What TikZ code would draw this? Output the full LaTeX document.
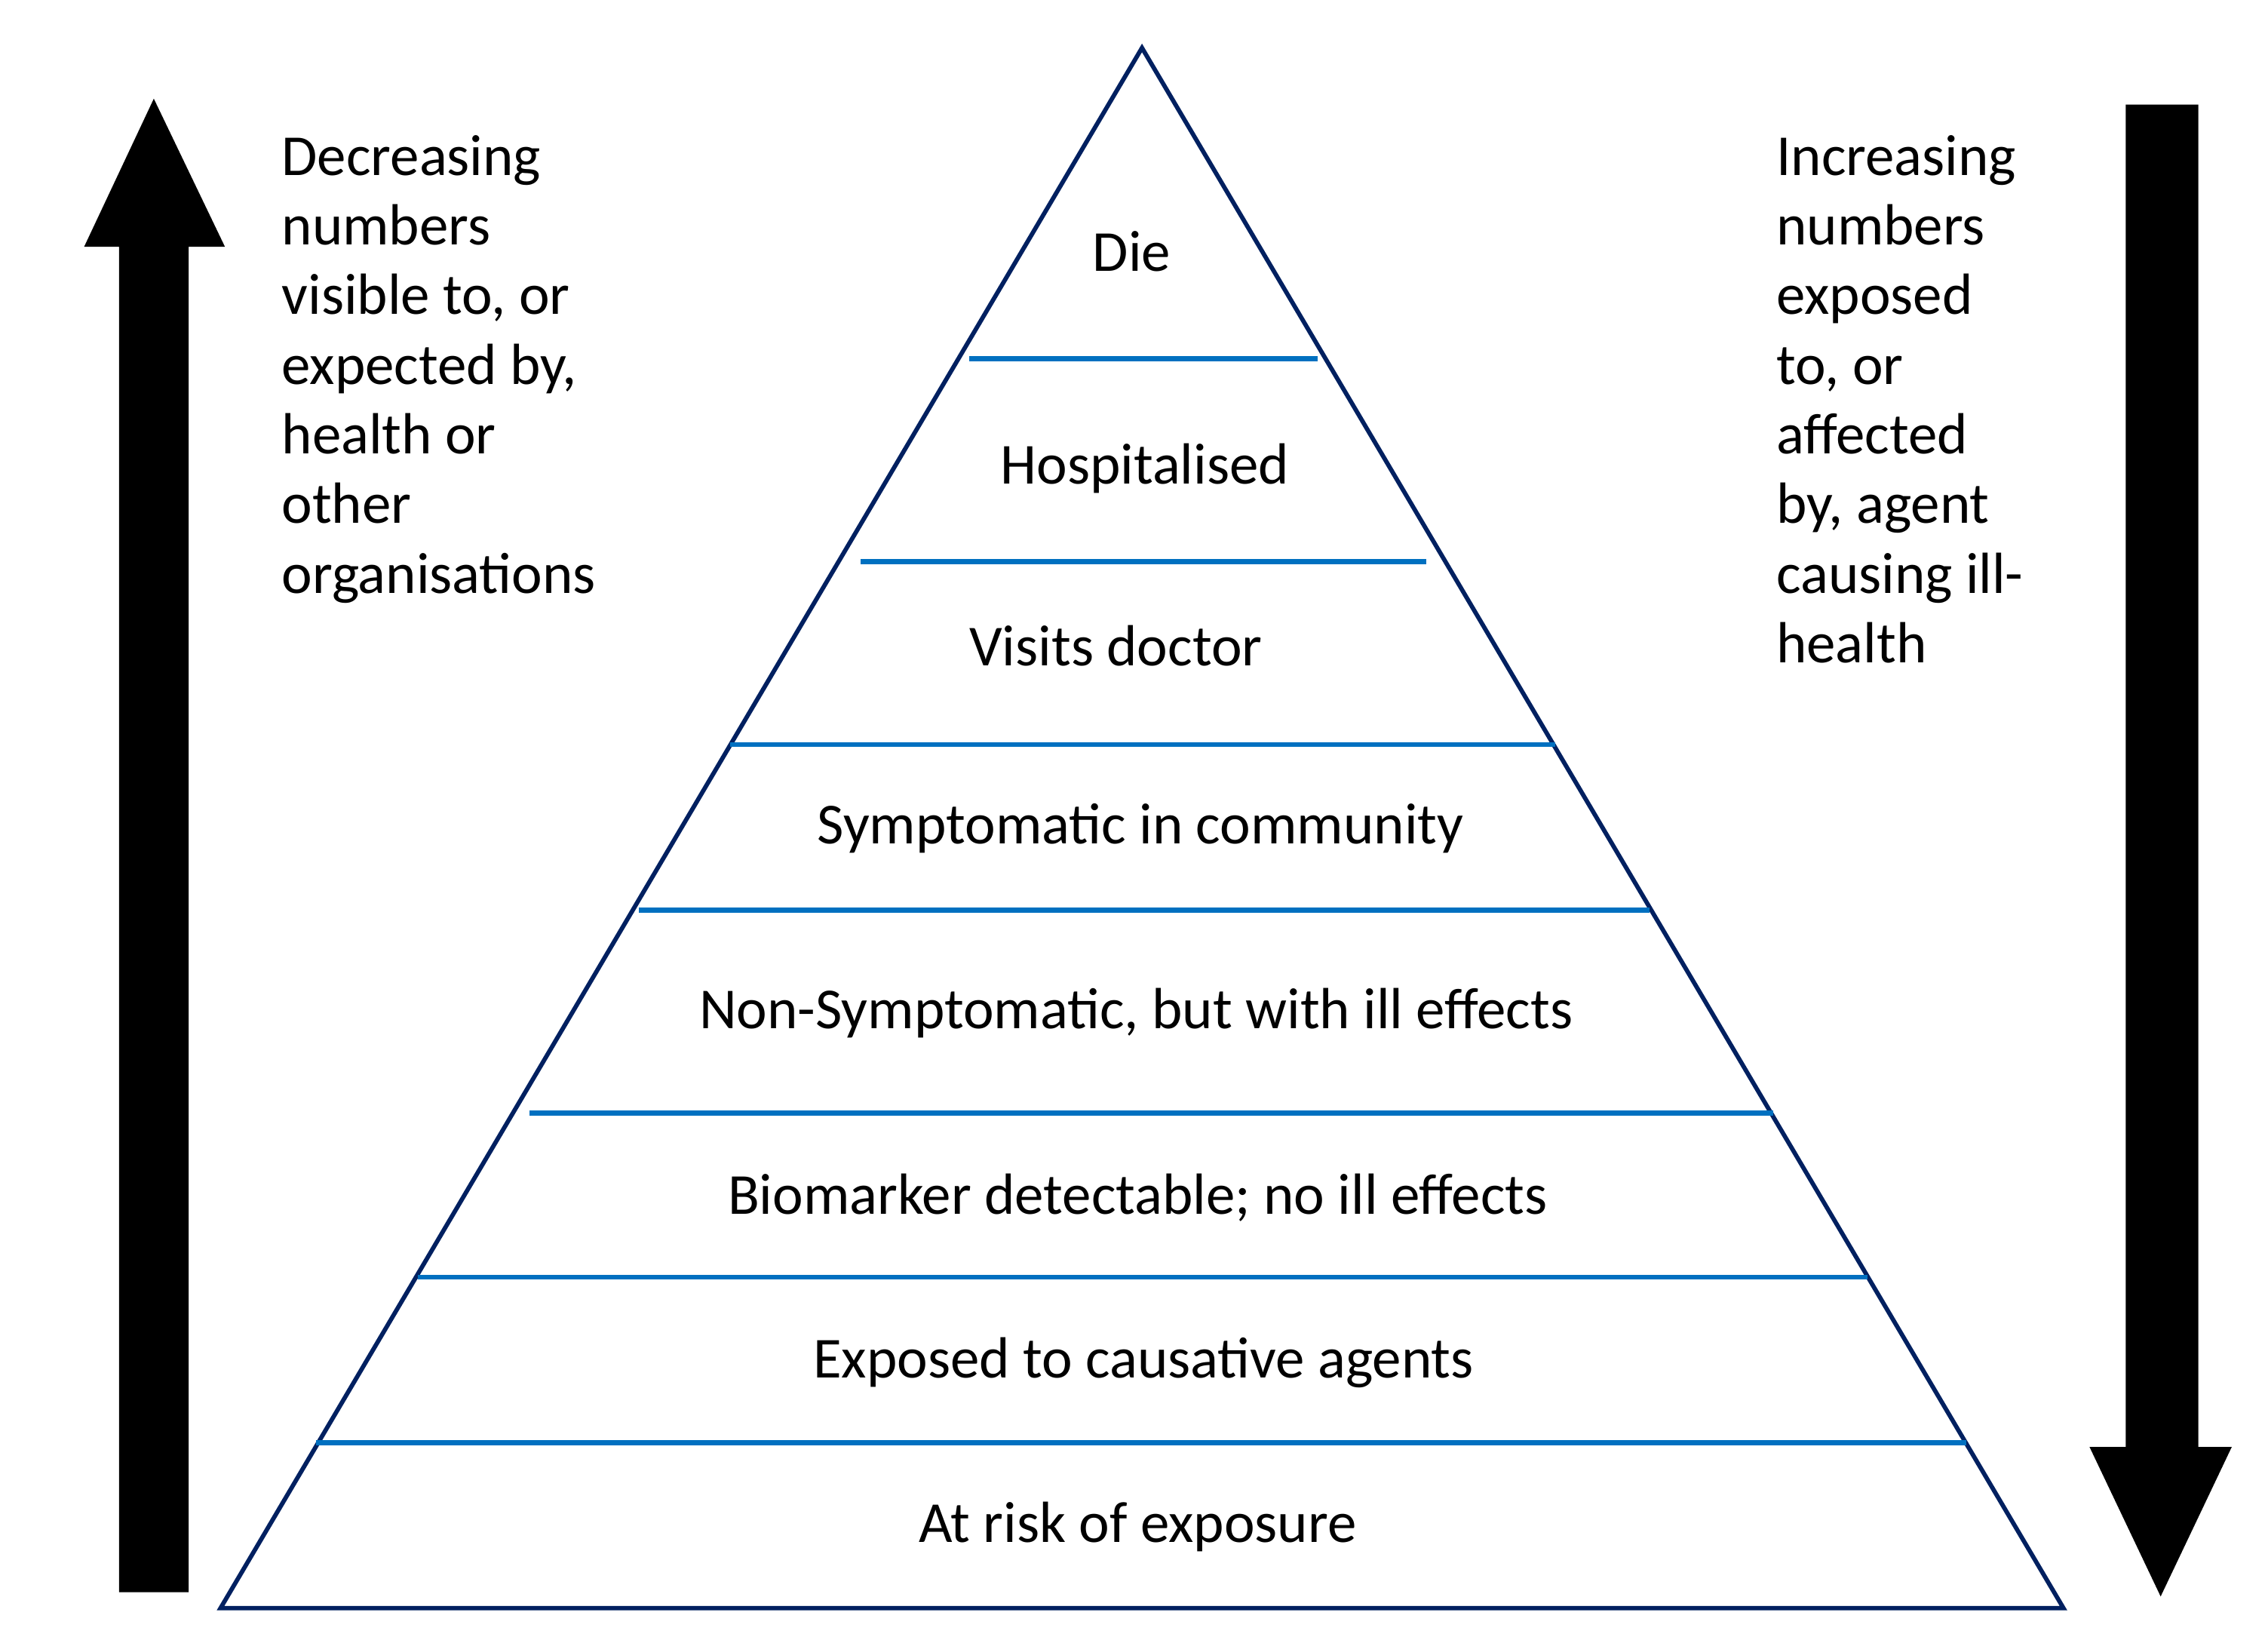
\documentclass[tikz,border=0pt]{standalone}
\usepackage{fontspec}
\setmainfont{Carlito}
\definecolor{navy}{RGB}{0,32,96}
\definecolor{tier}{RGB}{0,112,192}
\begin{document}
\begin{tikzpicture}[x=1pt,y=-1pt,
  lab/.style={font=\fontsize{40}{48}\selectfont, inner sep=0pt},
  side/.style={font=\fontsize{40}{48}\selectfont, inner sep=0pt, align=left, anchor=north west},
  tierline/.style={draw=tier, line width=3.5pt}]
\useasboundingbox (0,0) rectangle (1563,1130);
% arrows
\fill[black] (82,1097) -- (82,170) -- (58,170) -- (106,68) -- (155,170) -- (130,170) -- (130,1097) -- cycle;
\fill[black] (1465,72) -- (1515,72) -- (1515,997) -- (1538,997) -- (1489,1100) -- (1440,997) -- (1465,997) -- cycle;
% pyramid
\draw[navy, line width=3pt, line join=miter] (787,33) -- (1422,1108) -- (152,1108) -- cycle;
\draw[tierline] (668,247) -- (908,247);
\draw[tierline] (593,387) -- (983,387);
\draw[tierline] (503,513) -- (1072,513);
\draw[tierline] (440,627) -- (1137,627);
\draw[tierline] (365,767) -- (1222,767);
\draw[tierline] (288,880) -- (1287,880);
\draw[tierline] (218,994) -- (1355,994);
% labels
\node[lab] (die) at (780,173) {Die};
\node[lab] (hosp) at (789,323) {Hospitalised};
\node[lab] (visit) at (769,445) {Visits doctor};
\node[lab] (symp) at (786,571) {Symptomatic in community};
\node[lab] (nons) at (783,698) {Non-Symptomatic, but with ill effects};
\node[lab] (bio) at (784,825) {Biomarker detectable; no ill effects};
\node[lab] (exp) at (788,939) {Exposed to causative agents};
\node[lab] (risk) at (784,1052) {At risk of exposure};
\node[side] (left) at (194,93) {Decreasing\\numbers\\visible to, or\\expected by,\\health or\\other\\organisations};
\node[side] (right) at (1224,93) {Increasing\\numbers\\exposed\\to, or\\affected\\by, agent\\causing ill-\\health};
\end{tikzpicture}
\end{document}
